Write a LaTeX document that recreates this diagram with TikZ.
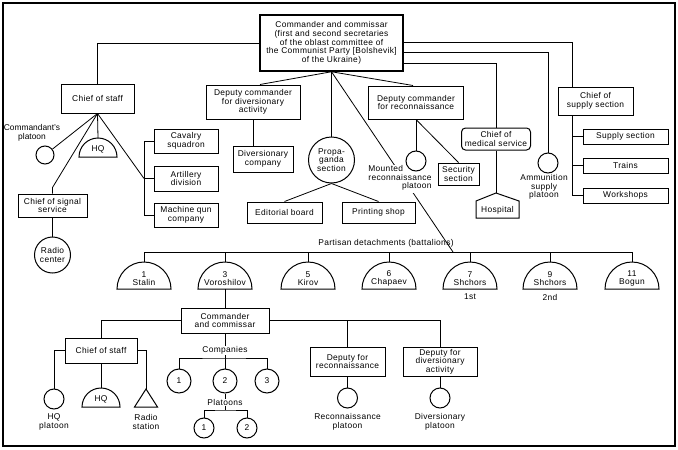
\documentclass[tikz,border=0pt]{standalone}
\usepackage{fontspec}
\setmainfont[LetterSpace=4]{Liberation Sans}
\usetikzlibrary{calc}
\newcommand\fs{\fontsize{8.4}{8.6}\selectfont}
\begin{document}
\begin{tikzpicture}[x=1pt,y=-1pt,
  ln/.style={line width=0.8pt},
  box/.style={draw, line width=1pt, align=center, inner sep=1pt, font=\fs},
  circ/.style={draw, circle, line width=1pt, inner sep=0pt, align=center, font=\fs},
  lbl/.style={align=center, inner sep=0.5pt, font=\fs}]
\useasboundingbox (0,0) rectangle (678,450);
\draw[line width=1.2pt] (3,3) rectangle (675,446);

% ---------- top level ----------
\node[box, line width=1.5pt, minimum width=143, minimum height=56] (top) at (331.5,43)
  {Commander and commissar\\(first and second secretaries\\of the oblast committee of\\the Communist Party [Bolshevik]\\of the Ukraine)};
\node[box, minimum width=73, minimum height=29] (cos) at (97.5,98.5) {Chief of staff};
\node[box, minimum width=94, minimum height=34] (dcd) at (253,102) {Deputy commander\\for diversionary\\activity};
\node[box, minimum width=95, minimum height=33] (dcr) at (416,102.5) {Deputy commander\\for reconnaissance};
\node[box, rounded corners=4pt, minimum width=69, minimum height=22] (med) at (496,139) {Chief of\\medical service};
\node[box, minimum width=75, minimum height=28] (sup) at (595.5,101) {Chief of\\supply section};
\node[box, minimum width=85, minimum height=15] (supsec) at (625.5,136.5) {Supply section};
\node[box, minimum width=85, minimum height=15] (trains) at (625.5,165.5) {Trains};
\node[box, minimum width=85, minimum height=15] (work) at (625.5,195.5) {Workshops};
\node[circ, minimum size=20] (ammo) at (548,163) {};
\node[lbl] (ammol) at (544,187) {Ammunition\\supply\\platoon};

% top connectors
\draw[ln] (top.west) -- (top.west -| cos.north) -- (cos.north);
\coordinate (supj) at ($(sup.north west)+(15,0)$);
\draw[ln] ([yshift=1pt]top.east) -| (supj);
\draw[ln] ([yshift=-9pt]top.east) -| (ammo.north);
\draw[ln] ([yshift=-20pt]top.east) -| (med.north);
\draw[ln] (top.south) -- ($(dcd.north)+(7,0)$);
\draw[ln] (top.south) -- ($(dcr.north)+(-3,0)$);

% supply subtree
\draw[ln] (supj |- sup.south) -- (supj |- work.west) -- (work.west);
\draw[ln] (supj |- supsec.west) -- (supsec.west);
\draw[ln] (supj |- trains.west) -- (trains.west);

% medical -> hospital
\coordinate (hospt) at (496,193);
\draw[ln] (med.south) -- (hospt);
\draw[line width=1pt] (hospt) -- (519,201) -- (519,218) -- (476,218) -- (476,201) -- cycle;
\node[lbl] (hosp) at (497.5,210) {Hospital};

% diversionary subtree
\node[box, minimum width=60, minimum height=26] (divco) at (263,159) {Diversionary\\company};
\draw[ln] (dcd.south) -- (dcd.south |- divco.north);

% propaganda
\node[circ, minimum size=46] (prop) at (331.5,160) {Propa-\\ganda\\section};
\node[box, minimum width=75, minimum height=21] (edit) at (284.5,212.5) {Editorial board};
\node[box, minimum width=73, minimum height=21] (print) at (378.5,212.5) {Printing shop};
\draw[ln] (top.south) -- (prop.north);
\draw[ln] (prop.south) -- (edit.north);
\draw[ln] (prop.south) -- (print.north);

% long line to partisan detachments
\coordinate (busj) at (453,252);
\draw[ln] (top.south) -- (busj);
\node[lbl, fill=white, inner sep=1pt] (mrpl) at (400,178.5)
  {\begin{tabular}{@{}l@{}}Mounted\\reconnaissance\\\hfill platoon\end{tabular}};

% reconnaissance subtree
\node[circ, minimum size=20] (mrp) at (416,161) {};
\node[box, minimum width=41, minimum height=22] (sec) at (458.5,174) {Security\\section};
\draw[ln] (dcr.south) -- (mrp.north);
\draw[ln] (dcr.south) -- (sec.north);

% chief of staff subtree
\node[circ, minimum size=18] (cp) at (45,155) {};
\node[lbl, font=\fs\addfontfeatures{LetterSpace=0}] (cpl) at (32,133) {Commandant's\\platoon};
\coordinate (hqt) at (98,138);
\draw[line width=1pt] (79,157) arc[start angle=180, end angle=360, radius=19] -- cycle;
\node[lbl] (hq) at (98,149) {HQ};
\node[box, minimum width=64, minimum height=24] (cav) at (186,141) {Cavalry\\squadron};
\node[box, minimum width=64, minimum height=25] (art) at (186,178.5) {Artillery\\division};
\node[box, minimum width=64, minimum height=24] (mg) at (186,215) {Machine qun\\company};
\coordinate (brk) at (144,178.5);
\node[box, minimum width=69, minimum height=23] (sig) at (52.5,205.5) {Chief of signal\\service};
\node[circ, minimum size=36] (radio) at (52.5,255) {Radio\\center};
\draw[ln] (cos.south) -- (cp);
\draw[ln] (cos.south) -- (hqt);
\draw[ln] (cos.south) -- (brk);
\draw[ln] (cos.south) -- ($(sig.north)+(0,-6)$) -- (sig.north);
\draw[ln] (cav.west) -- (cav.west -| brk) -- (mg.west -| brk) -- (mg.west);
\draw[ln] (art.west) -- (brk);
\draw[ln] (sig.south) -- (radio.north);

% partisan detachments
\coordinate (busL) at (144,252);
\coordinate (busR) at (632,252);
\draw[ln] (busL) -- (busR);
\node[lbl] (partl) at (386,243) {Partisan detachments (battalions)};
\foreach \x/\n/\t/\nm in {144/1/Stalin/dA, 225/3/Voroshilov/dB, 308/5/Kirov/dC, 389/6/Chapaev/dD, 470/7/Shchors/dE, 550/9/Shchors/dF, 632/11/Bogun/dG} {
  \coordinate (\nm t) at (\x,262);
  \coordinate (\nm b) at (\x,289);
  \draw[ln] (\nm t |- busL) -- (\nm t);
  \draw[line width=1pt] (\x-27,289) arc[start angle=180, end angle=360, radius=27] -- cycle;
  \node[lbl] (\nm) at (\x,278.5) {\n\\\t};
}
\node[lbl] (s1) at (470,297) {1st};
\node[lbl] (s2) at (550,297) {2nd};

% battalion structure
\node[box, minimum width=88, minimum height=25] (lcc) at (225,320.5) {Commander\\and commissar};
\draw[ln] (dBb) -- (lcc.north);
\node[box, minimum width=72, minimum height=25] (lcos) at (101,350.5) {Chief of staff};
\node[box, minimum width=75, minimum height=29] (ldr) at (347.5,361.5) {Deputy for\\reconnaissance};
\node[box, minimum width=74, minimum height=29] (ldd) at (440,361.5) {Deputy for\\diversionary\\activity};
\draw[ln] (lcc.west) -| (lcos.north);
\draw[ln] (lcc.east) -| (ldd.north);
\draw[ln] (ldr.north) -- (ldr.north |- lcc.east);

% lower chief of staff subtree
\node[circ, minimum size=20] (hqp) at (54,399) {};
\node[lbl] (hqpl) at (54,422) {HQ\\platoon};
\coordinate (lhqt) at (101,388);
\draw[line width=1pt] (82,407) arc[start angle=180, end angle=360, radius=19] -- cycle;
\node[lbl] (lhq) at (101,399) {HQ};
\coordinate (trit) at (146,389);
\draw[line width=1pt] (trit) -- (157.5,407) -- (134.5,407) -- cycle;
\node[lbl] (tril) at (146,422) {Radio\\station};
\draw[ln] (lcos.west) -| (hqp.north);
\draw[ln] (lcos.south) -- (lhqt);
\draw[ln] (lcos.east) -| (trit);

% companies
\node[circ, minimum size=24] (c1) at (179,381) {1};
\node[circ, minimum size=24] (c2) at (225,381) {2};
\node[circ, minimum size=24] (c3) at (267,381) {3};
\coordinate (cbus) at (225,358);
\draw[ln] (lcc.south) -- (c2.north);
\draw[ln] (c1.north) |- (cbus) -| (c3.north);
\node[lbl, fill=white] (compl) at (225,350.5) {Companies};

% platoons
\node[circ, minimum size=20] (p1) at (204,428) {1};
\node[circ, minimum size=20] (p2) at (247,428) {2};
\coordinate (pbus) at (225,410);
\draw[ln] (c2.south) -- (pbus);
\draw[ln] (p1.north) |- (pbus) -| (p2.north);
\node[lbl, fill=white] (platl) at (225,402.5) {Platoons};

% deputies subtrees
\node[circ, minimum size=20] (rp) at (347.5,398) {};
\node[lbl] (rpl) at (347.5,422) {Reconnaissance\\platoon};
\draw[ln] (ldr.south) -- (rp.north);
\node[circ, minimum size=20] (dp) at (440,398) {};
\node[lbl] (dpl) at (440,422) {Diversionary\\platoon};
\draw[ln] (ldd.south) -- (dp.north);
\end{tikzpicture}
\end{document}
